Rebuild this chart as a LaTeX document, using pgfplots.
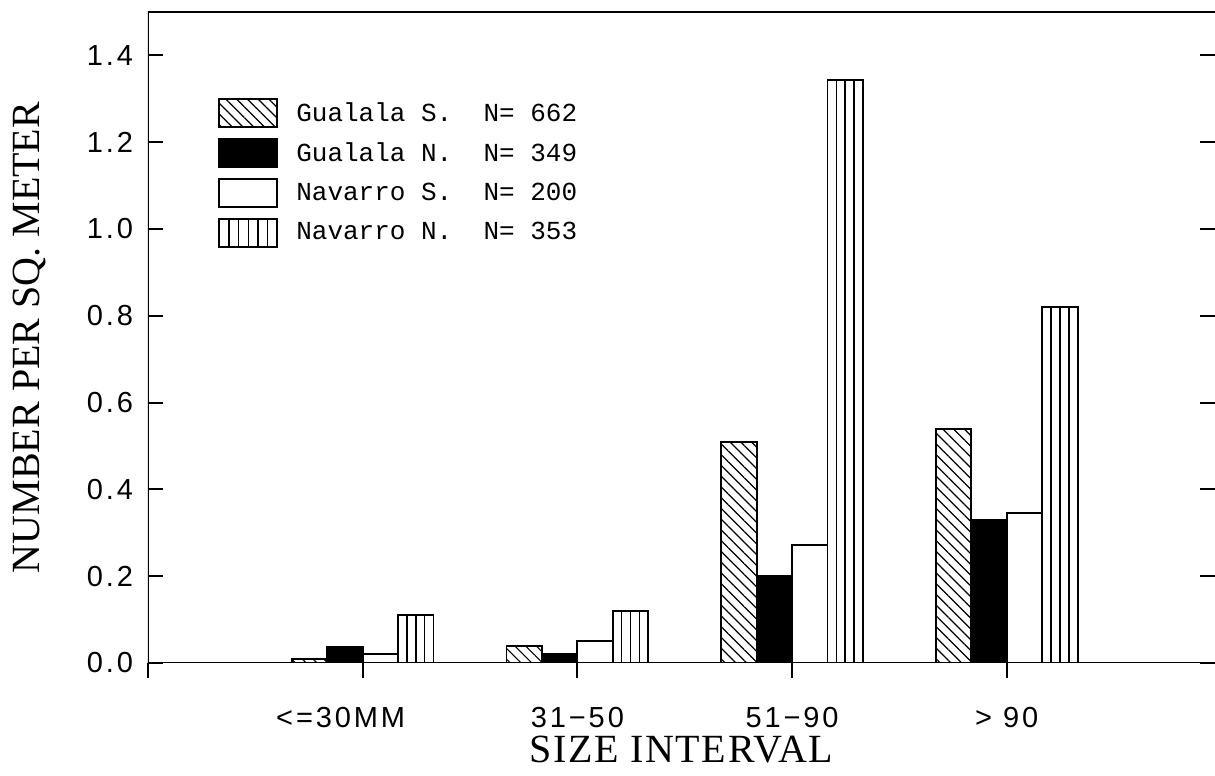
\documentclass[border=0pt]{standalone}
\usepackage{fontspec}
\setmainfont{Liberation Serif}
\setmonofont{Liberation Mono}
\newfontfamily\tickfont[LetterSpace=10]{Liberation Sans}
\newfontfamily\labelfont[LetterSpace=4]{Liberation Serif}
\usepackage{pgfplots}
\pgfplotsset{compat=1.18}
\usepackage{pgfplotstable}
\usetikzlibrary{patterns.meta}

\pgfplotstableread{
x gs gn ns nn
0 0.010 0.037 0.020 0.110
1 0.040 0.020 0.050 0.120
2 0.510 0.200 0.272 1.344
3 0.540 0.330 0.346 0.820
}\data

\begin{document}
\begin{tikzpicture}
\useasboundingbox (0,0) rectangle (607.5pt,388pt);
\begin{axis}[
  at={(74pt,56.5pt)}, anchor=south west,
  scale only axis, width=533.5pt, height=325.5pt,
  xmin=-1.0, xmax=3.97, ymin=0, ymax=1.5,
  axis line style={draw=none},
  xtick={-1,0,1,2,3},
  xticklabels={,{<=30MM\hspace*{22pt}},31−50,51−90,{> 90}},
  ytick={0,0.2,0.4,0.6,0.8,1.0,1.2,1.4},
  yticklabels={0.0,0.2,0.4,0.6,0.8,1.0,1.2,1.4},
  ticklabel style={font=\tickfont\fontsize{14.5}{16}\selectfont},
  xticklabel style={yshift=-11pt},
  yticklabel style={xshift=-4pt},
  xtick align=outside, ytick align=inside,
  xtick pos=lower, ytick pos=both,
  major tick length=7.5pt,
  tick style={black, line width=1pt},
  xlabel={SIZE INTERVAL},
  ylabel={NUMBER PER SQ. METER},
  xlabel style={at={([yshift=-43.5pt]axis description cs:0.5,0)}, anchor=center, font=\labelfont\fontsize{20}{24}\selectfont},
  ylabel style={at={([xshift=-59pt]axis description cs:0,0.5)}, anchor=center, font=\fontsize{20}{24}\selectfont},
  legend style={at={(axis description cs:0,1)}, anchor=north west, xshift=32pt, yshift=-41pt,
    draw=none, fill=none, font=\ttfamily\fontsize{13}{15}\selectfont, row sep=5pt},
  legend cell align=left,
  legend image code/.code={\draw[#1] (0pt,-7pt) rectangle (29pt,7pt); \path[draw=none,fill=none] (0pt,0pt) -- (36.5pt,0pt);},
]
\addplot[ybar, bar width=0.165, bar shift=-0.2475, draw=black, line width=0.9pt,
  pattern={Lines[angle=-45,distance=3.8pt,line width=0.6pt]}] table[x=x,y=gs]{\data};
\addlegendentry{Gualala S.\ \ N=\ 662}
\addplot[ybar, bar width=0.165, bar shift=-0.0825, draw=black, fill=black, line width=0.9pt] table[x=x,y=gn]{\data};
\addlegendentry{Gualala N.\ \ N=\ 349}
\addplot[ybar, bar width=0.165, bar shift=0.0825, draw=black, fill=white, line width=0.9pt] table[x=x,y=ns]{\data};
\addlegendentry{Navarro S.\ \ N=\ 200}
\addplot[ybar, bar width=0.165, bar shift=0.2475, draw=black, fill=white, line width=0.9pt,
  legend image code/.code={\draw[fill=white,line width=0.9pt] (0pt,-7pt) rectangle (29pt,7pt);
    \foreach \xx in {4.83,9.67,14.5,19.33,24.17}{\draw[line width=0.8pt] (\xx pt,-7pt)--(\xx pt,7pt);}
    \path[draw=none,fill=none] (0pt,0pt) -- (36.5pt,0pt);}] table[x=x,y=nn]{\data};
\addlegendentry{Navarro N.\ \ N=\ 353}
\addplot[ycomb, no marks, black, line width=0.8pt, forget plot] table[x expr=\thisrow{x}+0.20625, y=nn]{\data};
\addplot[ycomb, no marks, black, line width=0.8pt, forget plot] table[x expr=\thisrow{x}+0.2475, y=nn]{\data};
\addplot[ycomb, no marks, black, line width=0.8pt, forget plot] table[x expr=\thisrow{x}+0.28875, y=nn]{\data};
\draw[line width=1pt] (rel axis cs:1,1) -- (rel axis cs:0,1) -- (rel axis cs:0,0) -- (rel axis cs:1,0);
\end{axis}
\end{tikzpicture}
\end{document}
